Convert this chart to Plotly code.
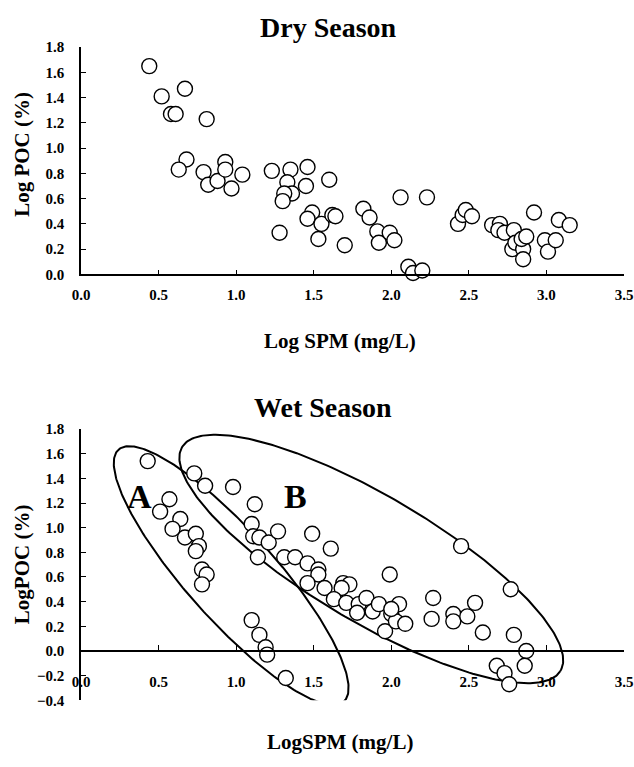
import numpy as np
import plotly.graph_objects as go

# ---- Dry season data (Log SPM, Log POC) ----
dry_x = [0.44, 0.52, 0.67, 0.58, 0.61, 0.81, 0.68, 0.63, 0.79, 0.82, 0.88, 0.93, 0.93, 0.97, 1.04,
         1.23, 1.35, 1.33, 1.36, 1.31, 1.30, 1.28, 1.46, 1.45, 1.60, 1.49, 1.46, 1.55, 1.53, 1.62,
         1.64, 1.70, 1.82, 1.86, 1.91, 1.92, 1.99, 2.02, 2.06, 2.11, 2.14, 2.20, 2.23, 2.43, 2.46,
         2.48, 2.52, 2.65, 2.70, 2.69, 2.73, 2.79, 2.78, 2.80, 2.85, 2.84, 2.87, 2.85, 2.92, 2.99,
         3.01, 3.06, 3.08, 3.15]
dry_y = [1.65, 1.41, 1.47, 1.27, 1.27, 1.23, 0.91, 0.83, 0.81, 0.71, 0.74, 0.89, 0.83, 0.68, 0.79,
         0.82, 0.83, 0.73, 0.64, 0.64, 0.58, 0.33, 0.85, 0.70, 0.75, 0.49, 0.44, 0.40, 0.28, 0.47,
         0.46, 0.23, 0.52, 0.45, 0.34, 0.25, 0.33, 0.27, 0.61, 0.06, 0.01, 0.03, 0.61, 0.40, 0.47,
         0.51, 0.46, 0.39, 0.40, 0.35, 0.33, 0.35, 0.20, 0.25, 0.20, 0.28, 0.30, 0.12, 0.49, 0.27,
         0.18, 0.27, 0.43, 0.39]

# ---- Wet season data ----
wet_x = [0.43, 0.57, 0.51, 0.64, 0.59, 0.67, 0.74, 0.76, 0.74, 0.78, 0.81, 0.78, 1.10, 1.15, 1.19,
         1.20, 1.32,
         0.73, 0.80, 0.98, 1.12, 1.10, 1.11, 1.15, 1.21, 1.27, 1.14, 1.31, 1.38, 1.46, 1.53, 1.53,
         1.49, 1.61, 1.46, 1.57, 1.69, 1.73, 1.68, 1.63, 1.71, 1.79, 1.78, 1.84, 1.88, 1.92, 1.99,
         1.96, 2.00, 2.05, 2.03, 2.09, 2.00, 2.27, 2.26, 2.40, 2.40, 2.49, 2.54, 2.59, 2.45, 2.77,
         2.79, 2.87, 2.68, 2.73, 2.76, 2.86]
wet_y = [1.54, 1.23, 1.13, 1.07, 0.99, 0.92, 0.95, 0.85, 0.81, 0.66, 0.62, 0.54, 0.25, 0.13, 0.03,
         -0.03, -0.22,
         1.44, 1.34, 1.33, 1.19, 1.03, 0.93, 0.92, 0.88, 0.97, 0.76, 0.76, 0.76, 0.71, 0.66, 0.62,
         0.95, 0.83, 0.55, 0.51, 0.55, 0.54, 0.51, 0.42, 0.39, 0.38, 0.31, 0.43, 0.32, 0.38, 0.62,
         0.16, 0.30, 0.38, 0.24, 0.22, 0.34, 0.43, 0.26, 0.30, 0.24, 0.28, 0.39, 0.15, 0.85, 0.50,
         0.13, 0.00, -0.12, -0.18, -0.27, -0.12]

x_ticks = [0.0, 0.5, 1.0, 1.5, 2.0, 2.5, 3.0, 3.5]
dry_y_ticks = [0.0, 0.2, 0.4, 0.6, 0.8, 1.0, 1.2, 1.4, 1.6, 1.8]
wet_y_ticks = [-0.4, -0.2, 0.0, 0.2, 0.4, 0.6, 0.8, 1.0, 1.2, 1.4, 1.6, 1.8]

# group ellipses (centre in data units, semi-axes in px, angle in degrees on screen)
ellipse_A = dict(cx=0.968, cy=0.611, a=171, b=45, ang=48.9)
ellipse_B = dict(cx=1.871, cy=0.746, a=221, b=64, ang=31.2)

W, H = 634, 767
L, R = 81, 10
PX_X = (W - L - R) / 3.5          # px per x unit
TOP = (40, 272)                    # px (top, bottom) of dry panel
BOT = (430, 707)                   # px of wet panel
PX_Y_BOT = (BOT[1] - BOT[0]) / 2.2

def dom(p):
    return [1 - p[1] / H, 1 - p[0] / H]

def ellipse_pts(e):
    t = np.linspace(0, 2 * np.pi, 300)
    th = np.radians(e["ang"])
    dx = e["a"] * np.cos(th) * np.cos(t) - e["b"] * np.sin(th) * np.sin(t)
    dy = e["a"] * np.sin(th) * np.cos(t) + e["b"] * np.cos(th) * np.sin(t)
    return e["cx"] + dx / PX_X, e["cy"] - dy / PX_Y_BOT

FONT = "Liberation Serif"
marker = dict(size=15, color="white", line=dict(color="black", width=1.4))

fig = go.Figure()
fig.add_trace(go.Scatter(x=dry_x, y=dry_y, mode="markers", marker=marker,
                         cliponaxis=False, xaxis="x", yaxis="y", showlegend=False))
for e in (ellipse_A, ellipse_B):
    ex, ey = ellipse_pts(e)
    fig.add_trace(go.Scatter(x=ex, y=ey, mode="lines", line=dict(color="black", width=2),
                             cliponaxis=False, xaxis="x2", yaxis="y2", showlegend=False,
                             hoverinfo="skip"))
fig.add_trace(go.Scatter(x=wet_x, y=wet_y, mode="markers", marker=marker,
                         cliponaxis=False, xaxis="x2", yaxis="y2", showlegend=False))

tickfont = dict(family=FONT, size=15, color="black", weight="bold")
common_ax = dict(showgrid=False, zeroline=False, showline=True, linecolor="black", linewidth=1.5,
                 ticks="inside", ticklen=5, tickcolor="black", tickwidth=1.2,
                 tickfont=tickfont, tickformat=".1f")

d_top = dom(TOP)
d_bot = dom(BOT)
pos0 = d_bot[0] + (0.4 / 2.2) * (d_bot[1] - d_bot[0])

fig.update_layout(
    width=W, height=H, margin=dict(l=L, r=R, t=0, b=0),
    paper_bgcolor="white", plot_bgcolor="white",
    xaxis=dict(common_ax, domain=[0, 1], range=[0, 3.5], tickvals=x_ticks, anchor="y",
               ticklabelstandoff=6),
    yaxis=dict(common_ax, domain=d_top, range=[0, 1.8], tickvals=dry_y_ticks, anchor="x",
               ticklabelstandoff=12),
    xaxis2=dict(common_ax, domain=[0, 1], range=[0, 3.5], tickvals=x_ticks, anchor="free",
                position=pos0, ticklabelstandoff=17),
    yaxis2=dict(common_ax, domain=d_bot, range=[-0.4, 1.8], tickvals=wet_y_ticks, anchor="x2",
                ticklabelstandoff=12),
)

def ann_px(text, px, py, size, angle=0):
    fig.add_annotation(text=f"<b>{text}</b>", x=(px - L) / (W - L - R), y=1 - py / H,
                       xref="paper", yref="paper", xanchor="center", yanchor="middle",
                       showarrow=False, textangle=angle,
                       font=dict(family=FONT, size=size, color="black"))

ann_px("Dry Season", 328, 20, 28)
ann_px("Log POC (%)", 22, 150, 21, -90)
ann_px("Log SPM (mg/L)", 340, 340, 21)
ann_px("Wet Season", 323, 408, 28)
ann_px("LogPOC (%)", 22, 568, 21, -90)
ann_px("LogSPM (mg/L)", 340, 750, 21)

fig.add_annotation(text="<b>A</b>", x=0.374, y=1.25, xref="x2", yref="y2", showarrow=False,
                   font=dict(family=FONT, size=34, color="black"))
fig.add_annotation(text="<b>B</b>", x=1.38, y=1.25, xref="x2", yref="y2", showarrow=False,
                   font=dict(family=FONT, size=34, color="black"))

fig.write_html("out.html", config={"displayModeBar": False},
               post_script="document.body.style.margin='0';document.body.style.overflow='hidden';")
